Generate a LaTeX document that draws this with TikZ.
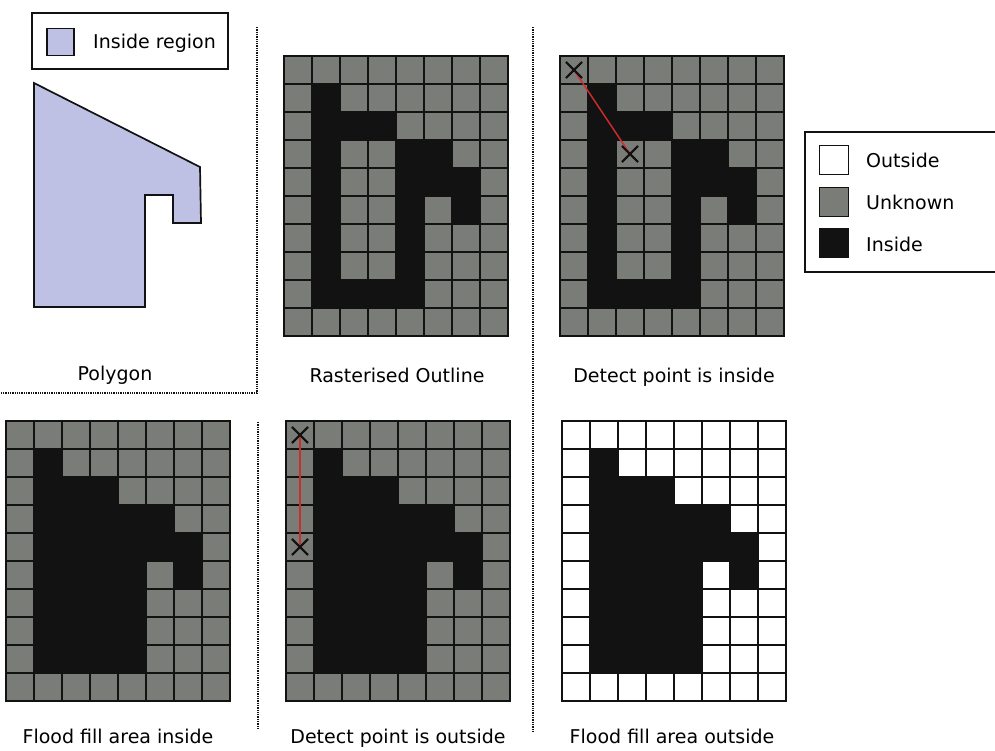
\documentclass[tikz,border=0pt]{standalone}
\usepackage{fontspec}
\setmainfont{DejaVu Sans}
\usetikzlibrary{shapes.misc}
\definecolor{unk}{RGB}{122,124,120}
\definecolor{ink}{RGB}{18,18,18}
\definecolor{lav}{RGB}{190,192,228}
\definecolor{redl}{RGB}{205,45,45}
\tikzset{
  lbl/.style={font=\fontsize{19}{22}\selectfont, inner sep=0pt, anchor=base},
  lgtext/.style={font=\fontsize{19}{22}\selectfont, inner sep=0pt, anchor=base west},
  sepline/.style={draw=ink, densely dotted, line width=1.3pt},
  gridl/.style={draw=ink, line width=2.8pt, line cap=rect},
  xmk/.style={cross out, draw=ink, line width=1.8pt, minimum size=14pt, inner sep=0pt},
  swatch/.style={draw=ink, line width=1.6pt},
  probe/.style={draw=redl, line width=1.4pt},
  legbox/.style={draw=ink, line width=1.4pt, fill=white}
}
\def\outlinecells{1/1, 1/2,2/2,3/2, 1/3,4/3,5/3, 1/4,4/4,5/4,6/4, 1/5,4/5,6/5, 1/6,4/6, 1/7,4/7, 1/8,2/8,3/8,4/8}
\def\filledcells{1/1, 1/2,2/2,3/2, 1/3,2/3,3/3,4/3,5/3, 1/4,2/4,3/4,4/4,5/4,6/4, 1/5,2/5,3/5,4/5,6/5, 1/6,2/6,3/6,4/6, 1/7,2/7,3/7,4/7, 1/8,2/8,3/8,4/8}
\newcommand\mypanel[4]{%
  \begin{scope}[shift={(#1,#2)}, x=28pt, y=-28pt]
    \fill[#3] (0,0) rectangle (8,10);
    \foreach \c/\r in #4 {\fill[ink] (\c,\r) rectangle ++(1,1);}
    \foreach \i in {0,...,8} {\draw[gridl] (\i,0) -- (\i,10);}
    \foreach \j in {0,...,10} {\draw[gridl] (0,\j) -- (8,\j);}
  \end{scope}}
\begin{document}
\begin{tikzpicture}[x=1pt,y=-1pt]
\useasboundingbox (0,0) rectangle (995,750);
\fill[white] (0,0) rectangle (995,750);

% ---- Polygon panel
\node[draw=ink, line width=1.4pt, minimum width=196pt, minimum height=56pt, inner sep=0pt] (legA) at (130,41) {};
\node[swatch, fill=lav, minimum size=27pt, inner sep=0pt] (swA) at (60.5,42) {};
\node[lgtext] (txA) at (93,48) {Inside region};
\fill[lav] (34,83) -- (200,167) -- (201,223) -- (173,223) -- (173,195) -- (145,195) -- (145,307) -- (34,307) -- cycle;
\draw[ink, line width=1.7pt, line join=miter] (34,83) -- (200,167) -- (201,223) -- (173,223) -- (173,195) -- (145,195) -- (145,307) -- (34,307) -- cycle;
\node[lbl] (lPoly) at (115,380) {Polygon};

% ---- separators
\coordinate (s1a) at (257,27);
\coordinate (s1b) at (257,393);
\coordinate (s1c) at (0,393);
\coordinate (s2a) at (258,422);
\coordinate (s2b) at (258,730);
\coordinate (s3a) at (533,27);
\coordinate (s3b) at (533,732);
\draw[sepline] (s1a) -- (s1b) -- (s1c);
\draw[sepline] (s2a) -- (s2b);
\draw[sepline] (s3a) -- (s3b);

% ---- grids
\mypanel{284}{56}{unk}{\outlinecells}
\node[lbl] (lRast) at (397,382) {Rasterised Outline};

\mypanel{560}{56}{unk}{\outlinecells}
\node[xmk] (xa1) at (574,70) {};
\node[xmk] (xa2) at (630,154) {};
\draw[probe] (xa1.center) -- (xa2.center);
\node[xmk] at (574,70) {};
\node[xmk] at (630,154) {};
\node[lbl] (lDetIn) at (674,382) {Detect point is inside};

\mypanel{6}{421}{unk}{\filledcells}
\node[lbl] (lFloodIn) at (118,743) {Flood fill area inside};

\mypanel{286}{421}{unk}{\filledcells}
\node[xmk] (xb1) at (300,435) {};
\node[xmk] (xb2) at (300,547) {};
\draw[probe] (xb1.center) -- (xb2.center);
\node[xmk] at (300,435) {};
\node[xmk] at (300,547) {};
\node[lbl] (lDetOut) at (398,743) {Detect point is outside};

\mypanel{562}{421}{white}{\filledcells}
\node[lbl] (lFloodOut) at (672,743) {Flood fill area outside};

% ---- legend right
\draw[legbox] (805,132) rectangle (1010,272);
\node[swatch, fill=white, minimum size=29pt, inner sep=0pt] (swOut) at (834,160) {};
\node[swatch, fill=unk, minimum size=29pt, inner sep=0pt] (swUnk) at (834,202) {};
\node[swatch, fill=ink, minimum size=29pt, inner sep=0pt] (swIn) at (834,243) {};
\node[lgtext] (tOut) at (866,167) {Outside};
\node[lgtext] (tUnk) at (866,209) {Unknown};
\node[lgtext] (tIn) at (866,251) {Inside};
\end{tikzpicture}
\end{document}
